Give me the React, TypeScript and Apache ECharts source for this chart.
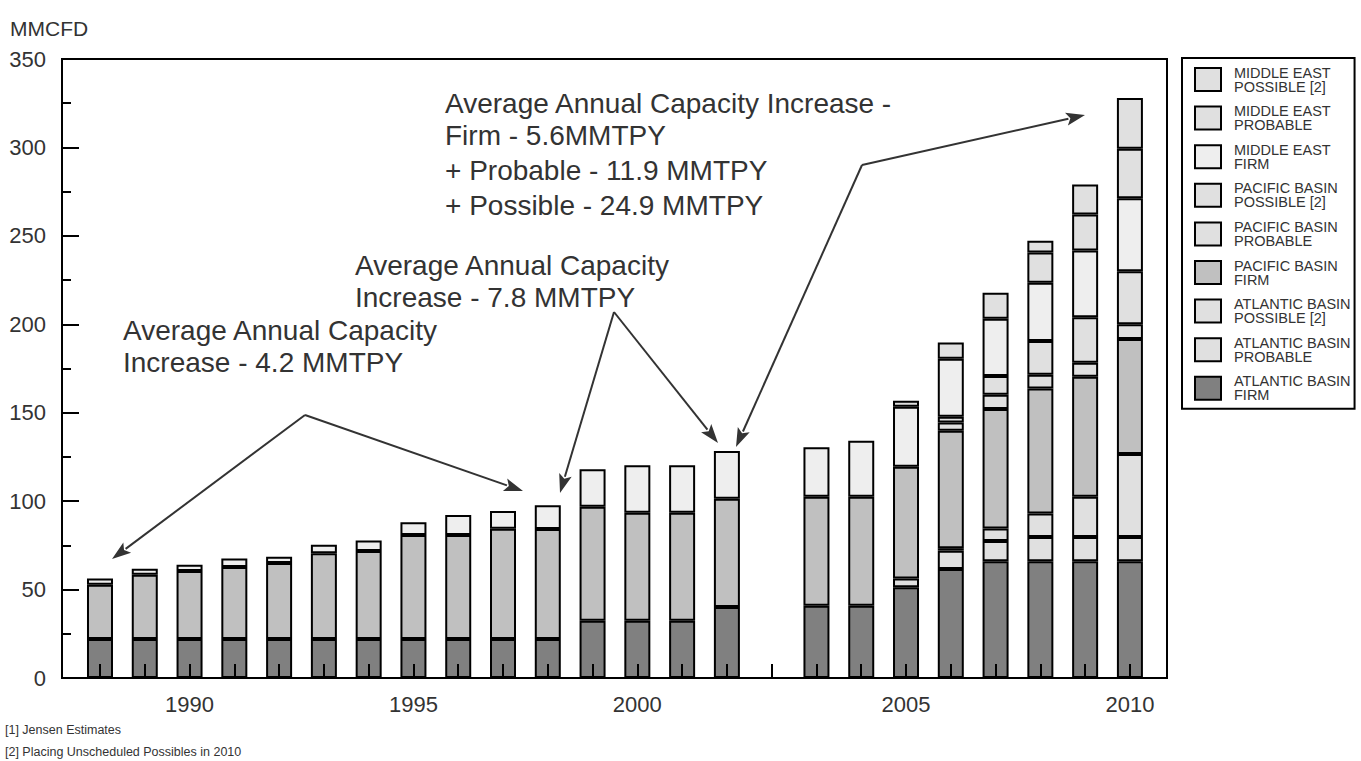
import { useEffect, useRef } from 'react';
import * as echarts from 'echarts';

// Categories: 1988-2002, a blank slot, then 2003-2010
const categories = [
  '1988', '1989', '1990', '1991', '1992', '1993', '1994', '1995', '1996', '1997',
  '1998', '1999', '2000', '2001', '2002', '', '2003', '2004', '2005', '2006',
  '2007', '2008', '2009', '2010',
];
const labeledYears = ['1990', '1995', '2000', '2005', '2010'];

const atlanticFirm = [22, 22, 22, 22, 22, 22, 22, 22, 22, 22, 22, 32.4, 32.4, 32.4, 40.1, null, 40.8, 40.8, 51.3, 61.6, 66, 66, 66, 66];
const atlanticProbable = [null, null, null, null, null, null, null, null, null, null, null, null, null, null, null, null, null, null, 5, 10.4, 11.5, 13.7, 13.7, 13.7];
const atlanticPossible = [null, null, null, null, null, null, null, null, null, null, null, null, null, null, null, null, null, null, null, 1.4, 7, 13.3, 22.8, 47];
const pacificFirm = [30.7, 36.4, 38.5, 40.7, 43, 48.6, 49.8, 58.8, 58.8, 62.4, 62.2, 64.4, 61, 61, 61.2, null, 61.7, 61.7, 63.1, 66.4, 67.6, 70.7, 67.9, 65];
const pacificProbable = [null, null, null, null, null, null, null, null, null, null, null, null, null, null, null, null, null, null, null, 4.7, 8, 7.8, 7.8, 8.3];
const pacificPossible = [null, null, null, null, null, null, null, null, null, null, null, null, null, null, null, null, null, null, null, 3.2, 10.6, 19.1, 25.8, 30];
const middleEastFirm = [3.6, 3.4, 3.5, 4.9, 3.5, 4.7, 6, 7.2, 11.4, 10, 13.5, 21.3, 26.9, 26.9, 27.1, null, 28, 31.6, 34, 32.8, 32.4, 32.9, 37.7, 41.3];
const middleEastProbable = [null, null, null, null, null, null, null, null, null, null, null, null, null, null, null, null, null, null, 3.4, 9.2, 14.8, 17.1, 20.4, 28];
const middleEastPossible = [null, null, null, null, null, null, null, null, null, null, null, null, null, null, null, null, null, null, null, null, null, 6.7, 17, 28.7];

const seriesNames = [
  'ATLANTIC BASIN\nFIRM', 'ATLANTIC BASIN\nPROBABLE', 'ATLANTIC BASIN\nPOSSIBLE [2]',
  'PACIFIC BASIN\nFIRM', 'PACIFIC BASIN\nPROBABLE', 'PACIFIC BASIN\nPOSSIBLE [2]',
  'MIDDLE EAST\nFIRM', 'MIDDLE EAST\nPROBABLE', 'MIDDLE EAST\nPOSSIBLE [2]',
];
const seriesValues = [
  atlanticFirm, atlanticProbable, atlanticPossible,
  pacificFirm, pacificProbable, pacificPossible,
  middleEastFirm, middleEastProbable, middleEastPossible,
];
const seriesColors = ['#808080', '#e0e0e0', '#e0e0e0', '#c0c0c0', '#e0e0e0', '#e0e0e0', '#eeeeee', '#e0e0e0', '#e0e0e0'];

const yTicks = { min: 0, max: 350, interval: 50 };

const annotationTexts = [
  ['Average Annual Capacity', 'Increase - 4.2 MMTPY'],
  ['Average Annual Capacity', 'Increase - 7.8 MMTPY'],
  ['Average Annual Capacity Increase -', 'Firm - 5.6MMTPY', '+ Probable - 11.9 MMTPY', '+ Possible - 24.9 MMTPY'],
];
const footnotes = ['[1] Jensen Estimates', '[2] Placing Unscheduled Possibles in 2010'];
const yUnit = 'MMCFD';

const FONT = '"Liberation Sans", Arial, Helvetica, sans-serif';
const TEXT = '#333333';

function arrow(x1: number, y1: number, x2: number, y2: number) {
  const dx = x2 - x1;
  const dy = y2 - y1;
  const len = Math.hypot(dx, dy);
  const ux = dx / len;
  const uy = dy / len;
  const hl = 19;
  const hw = 6.5;
  const bx = x2 - ux * hl;
  const by = y2 - uy * hl;
  return [
    { type: 'line', shape: { x1, y1, x2: bx + ux * 2, y2: by + uy * 2 }, style: { stroke: '#333', lineWidth: 2 } },
    {
      type: 'polygon',
      shape: { points: [[x2, y2], [bx - uy * hw, by + ux * hw], [bx + ux * 4, by + uy * 4], [bx + uy * hw, by - ux * hw]] },
      style: { fill: '#333' },
    },
  ];
}

function textLines(lines: string[], x: number, y0: number, step: number, size: number) {
  return lines.map((t, i) => ({
    type: 'text',
    style: { text: t, x, y: y0 + i * step, fill: TEXT, fontSize: size, fontFamily: FONT, verticalAlign: 'middle', align: 'left' },
  }));
}

export default function App() {
  const ref = useRef<HTMLDivElement>(null);
  useEffect(() => {
    if (!ref.current) return;
    const chart = echarts.init(ref.current, null, { renderer: 'svg' });
    const graphics: any[] = [
      ...textLines([yUnit], 10, 28, 0, 21),
      ...textLines(annotationTexts[0], 123, 330, 32, 28),
      ...textLines(annotationTexts[1], 355, 265, 32, 28),
      ...textLines(annotationTexts[2].slice(0, 2), 445, 103, 32, 28),
      ...textLines(annotationTexts[2].slice(2), 445, 170, 35, 28),
      ...textLines(footnotes, 5, 730, 22, 12.5),
      ...arrow(305, 415, 112, 559),
      ...arrow(305, 415, 523, 491),
      ...arrow(614, 312, 560, 493),
      ...arrow(614, 312, 718, 443),
      ...arrow(862, 165, 736, 447),
      ...arrow(862, 165, 1085, 115),
    ];
    chart.setOption({
      animation: false,
      backgroundColor: '#ffffff',
      textStyle: { fontFamily: FONT },
      grid: [
        { left: 77.6, top: 59, width: 1074.7, bottom: 83, show: false },
        { left: 62, top: 59, right: 194, bottom: 83, show: true, borderColor: '#000', borderWidth: 2, backgroundColor: 'transparent' },
      ],
      xAxis: [
        {
          type: 'category',
          gridIndex: 0,
          data: categories,
          z: 5,
          axisLine: { show: false },
          axisTick: { show: true, inside: true, length: 14, alignWithLabel: true, interval: 0, lineStyle: { color: '#000', width: 2 } },
          axisLabel: {
            interval: 0,
            margin: 15,
            fontSize: 22,
            color: TEXT,
            fontFamily: FONT,
            formatter: (v: string) => (labeledYears.includes(v) ? v : ''),
          },
          splitLine: { show: false },
        },
        { type: 'value', gridIndex: 1, show: false, min: 0, max: 1 },
      ],
      yAxis: [
        { type: 'value', gridIndex: 0, show: false, min: yTicks.min, max: yTicks.max, interval: yTicks.interval },
        {
          type: 'value',
          gridIndex: 1,
          min: yTicks.min,
          max: yTicks.max,
          interval: yTicks.interval,
          z: 5,
          axisLine: { show: true, lineStyle: { color: '#000', width: 2 } },
          axisTick: { show: true, inside: true, length: 17, lineStyle: { color: '#000', width: 2 } },
          minorTick: { show: true, splitNumber: 2, length: 9, lineStyle: { color: '#000', width: 2 } },
          axisLabel: { margin: 16, fontSize: 22, color: TEXT, fontFamily: FONT },
          splitLine: { show: false },
        },
      ],
      legend: {
        orient: 'vertical',
        left: 1182,
        top: 58,
        padding: [7, 4, 6, 12],
        itemWidth: 26,
        itemHeight: 23,
        itemGap: 9.6,
        borderColor: '#000',
        borderWidth: 2,
        icon: 'rect',
        selectedMode: false,
        itemStyle: { borderColor: '#000', borderWidth: 2 },
        textStyle: { fontFamily: FONT, fontSize: 14.5, lineHeight: 14, color: TEXT, padding: [0, 0, 0, 8] },
        data: [...seriesNames].reverse(),
      },
      series: seriesValues.map((vals, i) => ({
        name: seriesNames[i],
        type: 'bar',
        stack: 'total',
        xAxisIndex: 0,
        yAxisIndex: 0,
        barWidth: 26,
        data: vals,
        itemStyle: { color: seriesColors[i], borderColor: '#000', borderWidth: 2 },
        emphasis: { disabled: true },
      })),
      graphic: graphics,
    });
    return () => chart.dispose();
  }, []);
  return <div ref={ref} style={{ position: 'absolute', left: 0, top: 0, width: 1361, height: 761 }} />;
}
